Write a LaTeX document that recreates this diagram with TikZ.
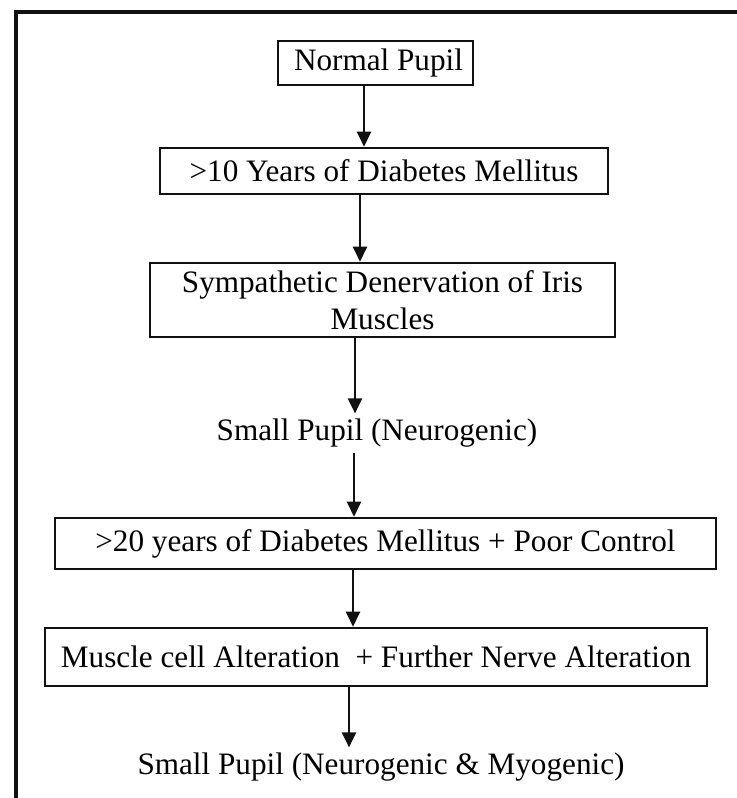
\documentclass[tikz,border=0pt]{standalone}
\usepackage{fontspec}
\setmainfont{Liberation Serif}
\usepackage{tikz}
\usetikzlibrary{arrows.meta,positioning,calc}
\definecolor{ink}{HTML}{111111}

\begin{document}
\begin{tikzpicture}[x=0.5pt,y=-0.5pt,>={Triangle[width=7pt,length=7.5pt]},
    stage/.style={draw=ink,line width=1.3pt,inner sep=0pt,align=center,
                  font=\fontsize{15.6}{18.5}\selectfont},
    result/.style={inner sep=2.5pt,font=\fontsize{15.6}{18.5}\selectfont},
    flow/.style={->,ink,line width=1.2pt}]
        \useasboundingbox (0,0) rectangle (737,798);
        % frame, cut at right and bottom
        \draw[ink,line width=1.8pt] (16,798) -- (16,12) -- (737,12);
        \node[stage,minimum width=97.5pt,minimum height=22pt] (normal) at (375.5,63)
              {\hspace{3pt}Normal Pupil};
        \node[stage,minimum width=224pt,minimum height=23pt] (dm10) at (384,171)
              {>10 Years of Diabetes Mellitus};
        \node[stage,minimum width=232.5pt,minimum height=37pt] (symp) at (382.5,300)
              {Sympathetic Denervation of Iris\\Muscles};
        \node[result] (neuro) at (377,433) {Small Pupil (Neurogenic)};
        \node[stage,minimum width=330.5pt,minimum height=25.5pt] (dm20) at (385.5,543.5)
              {>20 years of Diabetes Mellitus + Poor Control};
        \node[stage,minimum width=331pt,minimum height=29pt] (cells) at (376,657)
              {Muscle cell Alteration\ \ + Further Nerve Alteration};
        \node[result] (both) at (381,767) {Small Pupil (Neurogenic \& Myogenic)};
        \foreach \a/\b/\x in {normal/dm10/364,dm10/symp/360,symp/neuro/355,
                              neuro/dm20/354,dm20/cells/353,cells/both/349}{
          \draw[flow] (\a.south -| \x,0) -- (\b.north -| \x,0);
        }
      \end{tikzpicture}
\end{document}
